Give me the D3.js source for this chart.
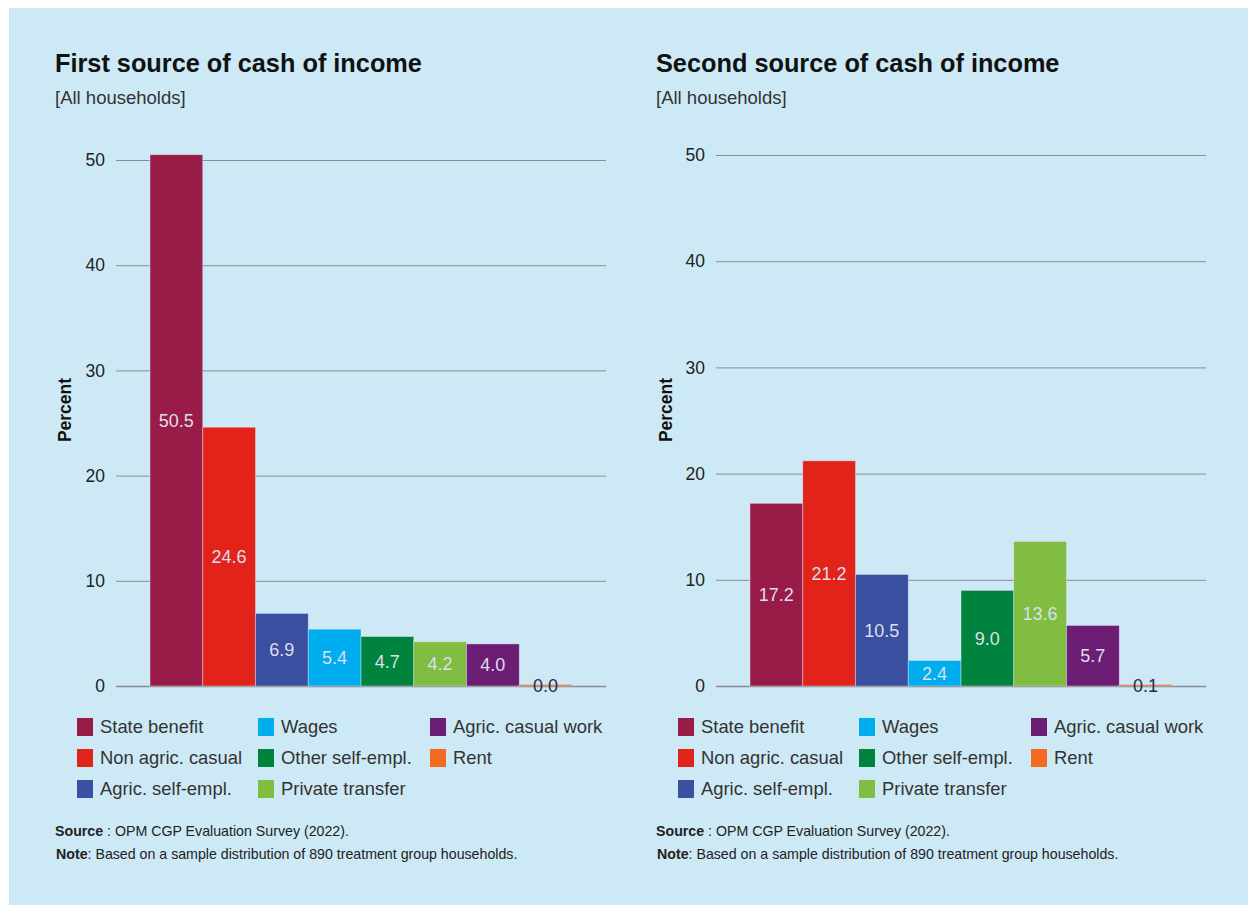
<!DOCTYPE html>
<html>
<head>
<meta charset="utf-8">
<script src="https://cdn.jsdelivr.net/npm/d3@7"></script>
<style>
  html, body { margin: 0; padding: 0; background: #ffffff; }
  svg { display: block; }
  text { font-family: "Liberation Sans", Arial, sans-serif; }
</style>
</head>
<body>
<svg id="chart" width="1248" height="905"></svg>
<script>
// Income source categories (shared by both panels)
const categories = [
  "State benefit", "Non agric. casual", "Agric. self-empl.", "Wages",
  "Other self-empl.", "Private transfer", "Agric. casual work", "Rent"
];
const categoryColors = [
  "#981b48", "#e2231a", "#3a4fa0", "#00aeef",
  "#00843d", "#80bd41", "#6b1e74", "#f26b21"
];

// Percent of households, by income source
const firstSourceValues  = [50.5, 24.6, 6.9, 5.4, 4.7, 4.2, 4.0, 0.0];
const secondSourceValues = [17.2, 21.2, 10.5, 2.4, 9.0, 13.6, 5.7, 0.1];

const yTicks = [0, 10, 20, 30, 40, 50];

const titles = ["First source of cash of income", "Second source of cash of income"];
const subtitle = "[All households]";
const sourceText = ": OPM CGP Evaluation Survey (2022).";
const noteText = ": Based on a sample distribution of 890 treatment group households.";

// Legend order: three columns, filled top to bottom
const legendColumns = [
  ["State benefit", "Non agric. casual", "Agric. self-empl."],
  ["Wages", "Other self-empl.", "Private transfer"],
  ["Agric. casual work", "Rent"]
];

const svg = d3.select("#chart");

// light blue backdrop
svg.append("rect")
  .attr("x", 9).attr("y", 8)
  .attr("width", 1239).attr("height", 897)
  .attr("fill", "#cde9f5");

const colorScale = d3.scaleOrdinal().domain(categories).range(categoryColors);

const panels = [
  { values: firstSourceValues,  title: titles[0], left: 55,  gridX0: 116, gridX1: 606, barX0: 150, barX1: 572, yTop: 160 },
  { values: secondSourceValues, title: titles[1], left: 656, gridX0: 716, gridX1: 1206, barX0: 750, barX1: 1172, yTop: 155 }
];

panels.forEach(p => {
  const g = svg.append("g");
  const yBase = 686;

  const y = d3.scaleLinear().domain([0, 50]).range([yBase, p.yTop]);
  const x = d3.scaleBand().domain(categories).range([p.barX0, p.barX1]).padding(0);

  // title & subtitle
  g.append("text")
    .attr("x", p.left).attr("y", 72)
    .attr("font-size", 25.3).attr("font-weight", "bold").attr("fill", "#111")
    .text(p.title);
  g.append("text")
    .attr("x", p.left).attr("y", 104)
    .attr("font-size", 18.5).attr("fill", "#333")
    .text(subtitle);

  // horizontal gridlines with tick labels
  const axis = d3.axisLeft(y)
    .tickValues(yTicks)
    .tickSize(-(p.gridX1 - p.gridX0))
    .tickPadding(11)
    .tickFormat(d3.format("d"));
  const axisG = g.append("g")
    .attr("transform", `translate(${p.gridX0},0)`)
    .call(axis);
  axisG.select(".domain").remove();
  axisG.selectAll(".tick line")
    .attr("stroke", "#8a8d90")
    .attr("stroke-width", d => d === 0 ? 1.6 : 1);
  axisG.selectAll(".tick text")
    .attr("font-size", 17.5)
    .attr("fill", "#222")
    .attr("font-family", "Liberation Sans, Arial, sans-serif");

  // y-axis title
  g.append("text")
    .attr("transform", `translate(${p.left + 16},${410}) rotate(-90)`)
    .attr("text-anchor", "middle")
    .attr("font-size", 17.5).attr("font-weight", "bold").attr("fill", "#111")
    .text("Percent");

  // bars
  const rows = categories.map((c, i) => ({ cat: c, value: p.values[i] }));
  g.selectAll("rect.bar")
    .data(rows)
    .join("rect")
    .attr("class", "bar")
    .attr("x", d => x(d.cat))
    .attr("width", x.bandwidth())
    .attr("y", d => Math.min(y(d.value), yBase - 1.5))
    .attr("height", d => Math.max(yBase - y(d.value), 1.5))
    .attr("fill", d => colorScale(d.cat))
    .attr("stroke", "rgba(225,225,245,0.55)")
    .attr("stroke-width", 0.8);

  // value labels, centred within each bar
  g.selectAll("text.val")
    .data(rows)
    .join("text")
    .attr("class", "val")
    .attr("x", d => x(d.cat) + x.bandwidth() / 2)
    .attr("y", d => (y(d.value) + yBase) / 2)
    .attr("dy", "0.36em")
    .attr("text-anchor", "middle")
    .attr("font-size", 18)
    .attr("fill", d => d.value < 1 ? "#1f2c4f" : "#dedeee")
    .text(d => d3.format(".1f")(d.value));

  // legend
  const colX = [p.left + 22, p.left + 203, p.left + 375];
  const rowY = [727, 758, 789];
  legendColumns.forEach((col, ci) => {
    col.forEach((name, ri) => {
      const lg = g.append("g")
        .attr("transform", `translate(${colX[ci]},${rowY[ri]})`);
      lg.append("rect")
        .attr("x", 0).attr("y", -9)
        .attr("width", 16).attr("height", 18)
        .attr("fill", colorScale(name));
      lg.append("text")
        .attr("x", 23).attr("y", 0).attr("dy", "0.35em")
        .attr("font-size", 18.4).attr("fill", "#333")
        .text(name);
    });
  });

  // source & note
  const src = g.append("text")
    .attr("x", p.left).attr("y", 836)
    .attr("font-size", 14.2).attr("fill", "#222");
  src.append("tspan").attr("font-weight", "bold").text("Source");
  src.append("tspan").text(" " + sourceText);
  const note = g.append("text")
    .attr("x", p.left + 1).attr("y", 859)
    .attr("font-size", 14.2).attr("fill", "#222");
  note.append("tspan").attr("font-weight", "bold").text("Note");
  note.append("tspan").text(noteText);
});
</script>
</body>
</html>
